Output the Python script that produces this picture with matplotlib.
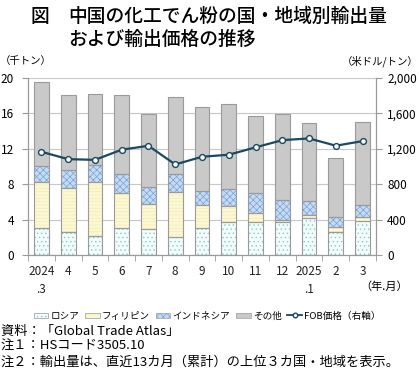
import matplotlib
matplotlib.use("Agg")
import matplotlib.pyplot as plt
from matplotlib.patches import Patch
from matplotlib.lines import Line2D
from matplotlib.legend_handler import HandlerBase
import matplotlib.patches as mpatches
import numpy as np

plt.rcParams['font.family'] = ['Noto Sans CJK JP', 'DejaVu Sans']
plt.rcParams['hatch.linewidth'] = 0.5

categories = ["2024\n.3", "4", "5", "6", "7", "8", "9", "10", "11", "12", "2025\n.1", "2", "3"]
russia = [3.1, 2.57, 2.2, 3.1, 2.9, 2.04, 3.0, 3.75, 3.75, 3.75, 4.13, 2.55, 3.83]
philippines_top = [8.3, 7.55, 8.3, 6.95, 5.77, 7.13, 5.6, 5.55, 4.73, 4.0, 4.47, 3.19, 4.28]
indonesia_top = [10.1, 9.55, 10.2, 9.2, 7.66, 9.1, 7.2, 7.5, 6.98, 6.27, 6.12, 4.28, 5.63]
total = [19.5, 18.1, 18.2, 18.1, 15.96, 17.9, 16.7, 17.1, 15.65, 15.95, 14.86, 10.92, 15.08]
fob_price = [1166, 1083, 1075, 1190, 1234, 1023, 1110, 1133, 1216, 1298, 1317, 1235, 1287]

philippines = [p - r for p, r in zip(philippines_top, russia)]
indonesia = [i - p for i, p in zip(indonesia_top, philippines_top)]
others = [t - i for t, i in zip(total, indonesia_top)]

fig = plt.figure(figsize=(4.2, 3.75), dpi=100)
ax = fig.add_axes([28/420, 120/375, 348/420, 177/375])
ax2 = ax.twinx()

x = np.arange(len(categories))
w = 0.55
edge = '#9a9a9a'

styles = [
    (russia, '#f4fbfb', '#7fcfcf', '....'),
    (philippines, '#fdf8d4', '#f3eab4', '-----'),
    (indonesia, '#c6dbf2', '#76a3dc', 'xxxxx'),
    (others, '#c9c9c9', '#c9c9c9', None),
]
bottom = np.zeros(len(x))
for vals, fc, hc, hatch in styles:
    vals = np.array(vals)
    ax.bar(x, vals, w, bottom=bottom, facecolor=fc, edgecolor=hc, hatch=hatch, linewidth=0, zorder=2)
    ax.bar(x, vals, w, bottom=bottom, fill=False, edgecolor=edge, linewidth=0.8, zorder=3)
    bottom += vals

ax2.plot(x, fob_price, color='#1b4862', linewidth=1.6, marker='o', markersize=4.2,
         markerfacecolor='white', markeredgecolor='#1b4862', markeredgewidth=1.0, zorder=5)

ax.set_xlim(-0.5, len(x) - 0.5)
ax.set_ylim(0, 20)
ax2.set_ylim(0, 2000)
ax.set_yticks([0, 4, 8, 12, 16, 20])
ax2.set_yticks([0, 400, 800, 1200, 1600, 2000])
ax2.set_yticklabels(['0', '400', '800', '1,200', '1,600', '2,000'])
ax.set_xticks(x)
ax.set_xticklabels(categories, linespacing=1.5)
ax.set_xticks(np.arange(-0.5, len(x), 1), minor=True)
ax.tick_params(axis='x', which='major', length=0, pad=7, labelsize=8.5, colors='#222222')
ax.tick_params(axis='x', which='minor', length=4, color='#9a9a9a', direction='out')
ax.tick_params(axis='y', length=4, color='#9a9a9a', pad=6, labelsize=8.5)
ax2.tick_params(axis='y', length=4, color='#9a9a9a', pad=4, labelsize=8.5)

ax.grid(axis='y', color='#c8c8c8', linewidth=0.8, zorder=0)
ax.set_axisbelow(True)
for a in (ax, ax2):
    a.spines['top'].set_visible(False)
    for s in ('left', 'right', 'bottom'):
        a.spines[s].set_color('#9a9a9a')
        a.spines[s].set_linewidth(0.8)
ax2.set_zorder(ax.get_zorder() + 1)
ax2.patch.set_visible(False)

fig.text(30/420, 1 - 16/375, "図", fontsize=13.5, va='center', ha='left', fontweight='medium')
fig.text(68/420, 1 - 16/375, "中国の化工でん粉の国・地域別輸出量", fontsize=13.5, va='center', ha='left', fontweight='medium')
fig.text(68/420, 1 - 39/375, "および輸出価格の推移", fontsize=13.5, va='center', ha='left', fontweight='medium')

fig.text(0/420, 1 - 61/375, "（千トン）", fontsize=7.5, va='center', ha='left')
fig.text(419/420, 1 - 61/375, "（米ドル/トン）", fontsize=7.5, va='center', ha='right')
fig.text(408/420, 1 - 287/375, "（年.月）", fontsize=8, va='center', ha='right')


class HatchSwatch(HandlerBase):
    def __init__(self, fc, hc, hatch):
        super().__init__()
        self.fc, self.hc, self.hatch = fc, hc, hatch

    def create_artists(self, legend, orig_handle, xdescent, ydescent, width, height, fontsize, trans):
        y0 = -ydescent + height * 0.15
        h = height * 0.7
        p1 = mpatches.Rectangle((-xdescent, y0), width, h, facecolor=self.fc, edgecolor=self.hc,
                                hatch=self.hatch, linewidth=0, transform=trans)
        p2 = mpatches.Rectangle((-xdescent, y0), width, h, fill=False, edgecolor='#a8a8a8',
                                linewidth=0.6, transform=trans)
        return [p1, p2]


handles = [Patch(label=str(i)) for i in range(4)]
handler_map = {}
for hdl, (vals, fc, hc, hatch) in zip(handles, styles):
    handler_map[hdl] = HatchSwatch(fc, hc, hatch)
line_handle = Line2D([0], [0], color='#1b4862', linewidth=1.3, marker='o', markersize=3.3,
                     markerfacecolor='white', markeredgecolor='#1b4862')
labels = ['ロシア', 'フィリピン', 'インドネシア', 'その他', 'FOB価格（右軸）']
fig.legend(handles + [line_handle], labels, loc='center', bbox_to_anchor=(207/420, 1 - 316/375), ncol=5,
           frameon=False, fontsize=6.9, handlelength=1.55, handleheight=0.9, handletextpad=0.2,
           columnspacing=0.6, borderaxespad=0, borderpad=0, handler_map=handler_map)

notes = ["資料：「Global Trade Atlas」", "注１：HSコード3505.10",
         "注２：輸出量は、直近13カ月（累計）の上位３カ国・地域を表示。"]
for i, t in enumerate(notes):
    fig.text(1/420, 1 - (331 + i * 15.5)/375, t, fontsize=9.5, va='center', ha='left')

fig.savefig("out.png", dpi=100)
